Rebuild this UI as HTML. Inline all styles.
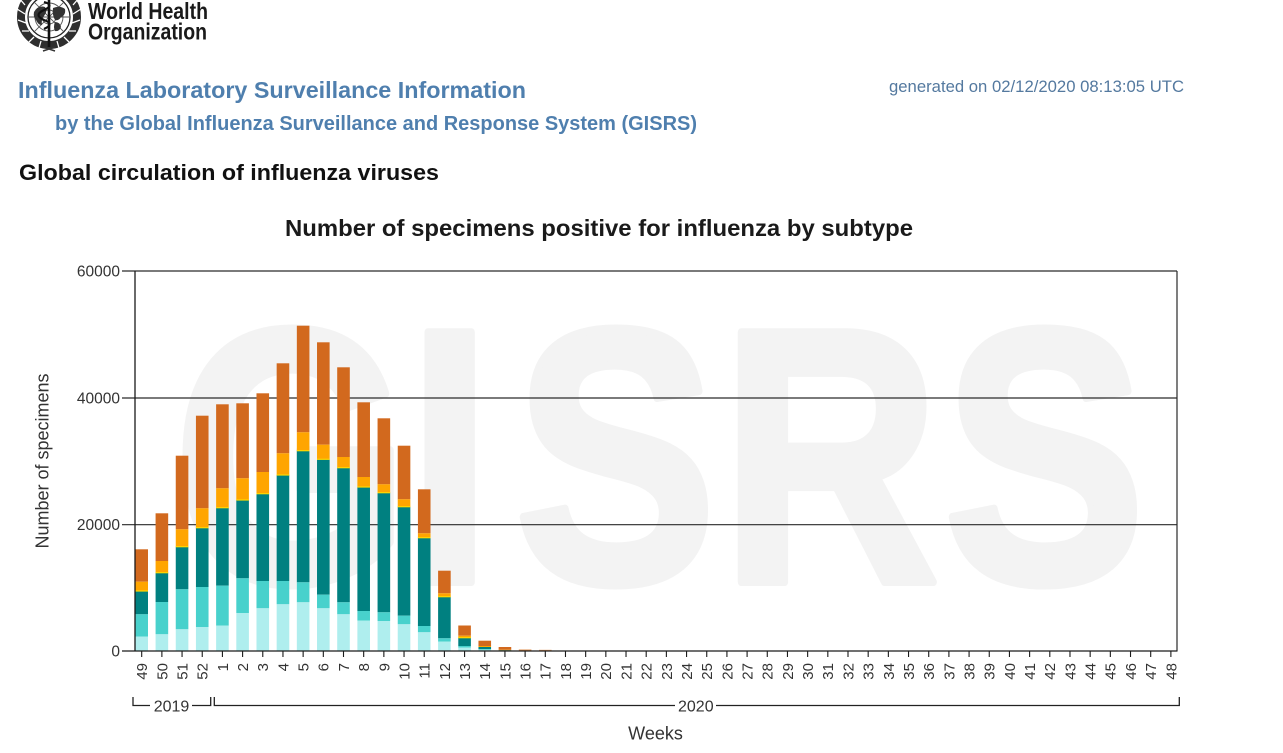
<!DOCTYPE html>
<html><head><meta charset="utf-8"><style>
html,body{margin:0;padding:0;background:#fff;}
svg{display:block;font-family:"Liberation Sans",Arial,sans-serif;}
</style></head><body>
<svg width="1283" height="753" viewBox="0 0 1283 753" xmlns="http://www.w3.org/2000/svg">
<rect width="1283" height="753" fill="#fff"/>

<!-- WHO emblem -->
<g transform="translate(49,17)">
  <circle r="28" fill="none" stroke="#2e2e2e" stroke-width="8"/>
  <g stroke="#fff" stroke-width="1.3">
    <path d="M-24 -3L-32 -8M-23 6L-31 3M-20 14L-27 14M-15 20L-20 25M-8 24L-10 31M-24 -12L-30 -19M-20 -18L-24 -26"/>
    <path d="M24 -3L32 -8M23 6L31 3M20 14L27 14M15 20L20 25M8 24L10 31M24 -12L30 -19M20 -18L24 -26"/>
  </g>
  <circle r="21" fill="#fff" stroke="#222" stroke-width="1.3"/>
  <circle r="14" fill="none" stroke="#555" stroke-width="0.9"/>
  <circle r="7" fill="none" stroke="#555" stroke-width="0.9"/>
  <path d="M-21 0H21M-14.8 -14.8L14.8 14.8M14.8 -14.8L-14.8 14.8" stroke="#555" stroke-width="0.9"/>
  <path d="M-15 -5q4 -7 11 -5q3 4 -1 9q-3 4 -2 9q-4 0 -6 -5q-3 -3 -2 -8z" fill="#333"/>
  <path d="M4 -9q7 -3 12 1q1 6 -4 8q-2 4 -6 3q-3 -5 -2 -12z" fill="#333"/>
  <path d="M6 5q5 0 6 5q-2 5 -6 4q-2 -4 0 -9z" fill="#333"/>
  <line x1="0" y1="-24" x2="0" y2="30" stroke="#111" stroke-width="2.6"/>
  <path d="M-5 -15q11 3 0 8q-11 5 0 10q11 4 0 9" stroke="#111" stroke-width="2.2" fill="none"/>
  <path d="M-6 30L6 34M6 30L-6 34" stroke="#333" stroke-width="1.5"/>
</g>
<text x="88" y="19" font-size="23" font-weight="bold" fill="#1a1a1a" textLength="120" lengthAdjust="spacingAndGlyphs">World Health</text>
<text x="88" y="39.5" font-size="23" font-weight="bold" fill="#1a1a1a" textLength="119" lengthAdjust="spacingAndGlyphs">Organization</text>

<!-- Header -->
<text x="18" y="98" font-size="23" font-weight="bold" fill="#4f7fae" textLength="508" lengthAdjust="spacingAndGlyphs">Influenza Laboratory Surveillance Information</text>
<text x="55" y="130" font-size="20" font-weight="bold" fill="#4f7fae" textLength="642" lengthAdjust="spacingAndGlyphs">by the Global Influenza Surveillance and Response System (GISRS)</text>
<text x="889" y="92" font-size="16.5" fill="#54799f" textLength="295" lengthAdjust="spacingAndGlyphs">generated on 02/12/2020 08:13:05 UTC</text>
<text x="19" y="180" font-size="22" font-weight="bold" fill="#111" textLength="420" lengthAdjust="spacingAndGlyphs">Global circulation of influenza viruses</text>

<!-- Chart title -->
<text x="599" y="236" font-size="23" font-weight="bold" fill="#1a1a1a" text-anchor="middle" textLength="628" lengthAdjust="spacingAndGlyphs">Number of specimens positive for influenza by subtype</text>

<!-- Watermark -->
<g transform="translate(0,582) scale(0.835,1)" fill="#f3f3f3" stroke="#f3f3f3" stroke-width="8" stroke-linejoin="round" font-size="363" font-weight="bold">
  <text x="207.7 488.1 616.0 863.3 1129.8" y="0">GISRS</text>
</g>

<!-- Grid lines -->
<g stroke="#2a2a2a" stroke-width="1.2">
  <line x1="122" y1="398" x2="1177" y2="398"/>
  <line x1="122" y1="524.7" x2="1177" y2="524.7"/>
  <line x1="122" y1="271" x2="1177" y2="271"/>
  <line x1="1177" y1="271" x2="1177" y2="651"/>
</g>

<!-- Bars -->
<g>
<!-- 49 -->
<rect x="135.4" y="549.3" width="12.6" height="32.4" fill="#d2691e"/><rect x="135.4" y="581.7" width="12.6" height="9.3" fill="#ffa500"/><rect x="135.4" y="591" width="12.6" height="23.3" fill="#008080"/><rect x="135.4" y="614.3" width="12.6" height="22.4" fill="#48d1cc"/><rect x="135.4" y="636.7" width="12.6" height="14.3" fill="#afeeee"/>
<!-- 50 -->
<rect x="155.58" y="513.3" width="12.6" height="47.7" fill="#d2691e"/><rect x="155.58" y="561" width="12.6" height="11.7" fill="#ffa500"/><rect x="155.58" y="572.7" width="12.6" height="29.3" fill="#008080"/><rect x="155.58" y="602" width="12.6" height="32.3" fill="#48d1cc"/><rect x="155.58" y="634.3" width="12.6" height="16.7" fill="#afeeee"/>
<!-- 51 -->
<rect x="175.76" y="455.7" width="12.6" height="73.6" fill="#d2691e"/><rect x="175.76" y="529.3" width="12.6" height="17.4" fill="#ffa500"/><rect x="175.76" y="546.7" width="12.6" height="42.6" fill="#008080"/><rect x="175.76" y="589.3" width="12.6" height="40" fill="#48d1cc"/><rect x="175.76" y="629.3" width="12.6" height="21.7" fill="#afeeee"/>
<!-- 52 -->
<rect x="195.94" y="415.7" width="12.6" height="92.6" fill="#d2691e"/><rect x="195.94" y="508.3" width="12.6" height="19.4" fill="#ffa500"/><rect x="195.94" y="527.7" width="12.6" height="59.3" fill="#008080"/><rect x="195.94" y="587" width="12.6" height="40" fill="#48d1cc"/><rect x="195.94" y="627" width="12.6" height="24" fill="#afeeee"/>
<!-- 1 -->
<rect x="216.12" y="404.3" width="12.6" height="84" fill="#d2691e"/><rect x="216.12" y="488.3" width="12.6" height="19.4" fill="#ffa500"/><rect x="216.12" y="507.7" width="12.6" height="78" fill="#008080"/><rect x="216.12" y="585.7" width="12.6" height="40" fill="#48d1cc"/><rect x="216.12" y="625.7" width="12.6" height="25.3" fill="#afeeee"/>
<!-- 2 -->
<rect x="236.3" y="403.3" width="12.6" height="75" fill="#d2691e"/><rect x="236.3" y="478.3" width="12.6" height="21.7" fill="#ffa500"/><rect x="236.3" y="500" width="12.6" height="78.3" fill="#008080"/><rect x="236.3" y="578.3" width="12.6" height="34.7" fill="#48d1cc"/><rect x="236.3" y="613" width="12.6" height="38" fill="#afeeee"/>
<!-- 3 -->
<rect x="256.48" y="393.3" width="12.6" height="78.7" fill="#d2691e"/><rect x="256.48" y="472" width="12.6" height="21.7" fill="#ffa500"/><rect x="256.48" y="493.7" width="12.6" height="87.3" fill="#008080"/><rect x="256.48" y="581" width="12.6" height="27.3" fill="#48d1cc"/><rect x="256.48" y="608.3" width="12.6" height="42.7" fill="#afeeee"/>
<!-- 4 -->
<rect x="276.66" y="363.3" width="12.6" height="90" fill="#d2691e"/><rect x="276.66" y="453.3" width="12.6" height="21.7" fill="#ffa500"/><rect x="276.66" y="475" width="12.6" height="106" fill="#008080"/><rect x="276.66" y="581" width="12.6" height="23.3" fill="#48d1cc"/><rect x="276.66" y="604.3" width="12.6" height="46.7" fill="#afeeee"/>
<!-- 5 -->
<rect x="296.84" y="325.7" width="12.6" height="106.6" fill="#d2691e"/><rect x="296.84" y="432.3" width="12.6" height="18.4" fill="#ffa500"/><rect x="296.84" y="450.7" width="12.6" height="131.6" fill="#008080"/><rect x="296.84" y="582.3" width="12.6" height="20" fill="#48d1cc"/><rect x="296.84" y="602.3" width="12.6" height="48.7" fill="#afeeee"/>
<!-- 6 -->
<rect x="317.02" y="342.3" width="12.6" height="102.4" fill="#d2691e"/><rect x="317.02" y="444.7" width="12.6" height="14.6" fill="#ffa500"/><rect x="317.02" y="459.3" width="12.6" height="135.4" fill="#008080"/><rect x="317.02" y="594.7" width="12.6" height="13.6" fill="#48d1cc"/><rect x="317.02" y="608.3" width="12.6" height="42.7" fill="#afeeee"/>
<!-- 7 -->
<rect x="337.2" y="367.3" width="12.6" height="89.7" fill="#d2691e"/><rect x="337.2" y="457" width="12.6" height="10.7" fill="#ffa500"/><rect x="337.2" y="467.7" width="12.6" height="134.6" fill="#008080"/><rect x="337.2" y="602.3" width="12.6" height="12" fill="#48d1cc"/><rect x="337.2" y="614.3" width="12.6" height="36.7" fill="#afeeee"/>
<!-- 8 -->
<rect x="357.38" y="402.3" width="12.6" height="74.7" fill="#d2691e"/><rect x="357.38" y="477" width="12.6" height="10" fill="#ffa500"/><rect x="357.38" y="487" width="12.6" height="124" fill="#008080"/><rect x="357.38" y="611" width="12.6" height="9.7" fill="#48d1cc"/><rect x="357.38" y="620.7" width="12.6" height="30.3" fill="#afeeee"/>
<!-- 9 -->
<rect x="377.56" y="418.3" width="12.6" height="66" fill="#d2691e"/><rect x="377.56" y="484.3" width="12.6" height="8.4" fill="#ffa500"/><rect x="377.56" y="492.7" width="12.6" height="119.6" fill="#008080"/><rect x="377.56" y="612.3" width="12.6" height="8.7" fill="#48d1cc"/><rect x="377.56" y="621" width="12.6" height="30" fill="#afeeee"/>
<!-- 10 -->
<rect x="397.74" y="445.7" width="12.6" height="53.6" fill="#d2691e"/><rect x="397.74" y="499.3" width="12.6" height="7.4" fill="#ffa500"/><rect x="397.74" y="506.7" width="12.6" height="109" fill="#008080"/><rect x="397.74" y="615.7" width="12.6" height="8.6" fill="#48d1cc"/><rect x="397.74" y="624.3" width="12.6" height="26.7" fill="#afeeee"/>
<!-- 11 -->
<rect x="417.92" y="489.3" width="12.6" height="44" fill="#d2691e"/><rect x="417.92" y="533.3" width="12.6" height="4.4" fill="#ffa500"/><rect x="417.92" y="537.7" width="12.6" height="88.3" fill="#008080"/><rect x="417.92" y="626" width="12.6" height="6.3" fill="#48d1cc"/><rect x="417.92" y="632.3" width="12.6" height="18.7" fill="#afeeee"/>
<!-- 12 -->
<rect x="438.1" y="570.7" width="12.6" height="22.6" fill="#d2691e"/><rect x="438.1" y="593.3" width="12.6" height="3.4" fill="#ffa500"/><rect x="438.1" y="596.7" width="12.6" height="41.6" fill="#008080"/><rect x="438.1" y="638.3" width="12.6" height="3.4" fill="#48d1cc"/><rect x="438.1" y="641.7" width="12.6" height="9.3" fill="#afeeee"/>
<!-- 13 -->
<rect x="458.28" y="625.5" width="12.6" height="10.2" fill="#d2691e"/><rect x="458.28" y="635.7" width="12.6" height="2" fill="#ffa500"/><rect x="458.28" y="637.7" width="12.6" height="8.3" fill="#008080"/><rect x="458.28" y="646" width="12.6" height="1.5" fill="#48d1cc"/><rect x="458.28" y="647.5" width="12.6" height="3.5" fill="#afeeee"/>
<!-- 14 -->
<rect x="478.46" y="640.7" width="12.6" height="5.3" fill="#d2691e"/><rect x="478.46" y="646" width="12.6" height="1" fill="#ffa500"/><rect x="478.46" y="647" width="12.6" height="2" fill="#008080"/><rect x="478.46" y="649" width="12.6" height="0.8" fill="#48d1cc"/><rect x="478.46" y="649.8" width="12.6" height="1.2" fill="#afeeee"/>
<!-- 15 -->
<rect x="498.64" y="647" width="12.6" height="2.8" fill="#d2691e"/><rect x="498.64" y="649.8" width="12.6" height="0.5" fill="#ffa500"/><rect x="498.64" y="650.3" width="12.6" height="0.7" fill="#008080"/>
<!-- 16 -->
<rect x="518.82" y="649.5" width="12.6" height="1.5" fill="#e09050"/>
<!-- 17 -->
<rect x="539" y="649.8" width="12.6" height="1.2" fill="#e8a06a"/>
</g>
<!-- thin yellow lines at teal top -->
<g fill="#ffd700">
<rect x="135.4" y="590.4" width="12.6" height="1.2"/><rect x="155.58" y="572.1" width="12.6" height="1.2"/><rect x="175.76" y="546.1" width="12.6" height="1.2"/><rect x="195.94" y="527.1" width="12.6" height="1.2"/><rect x="216.12" y="507.1" width="12.6" height="1.2"/><rect x="236.3" y="499.4" width="12.6" height="1.2"/><rect x="256.48" y="493.1" width="12.6" height="1.2"/><rect x="276.66" y="474.4" width="12.6" height="1.2"/><rect x="296.84" y="450.1" width="12.6" height="1.2"/><rect x="317.02" y="458.7" width="12.6" height="1.2"/><rect x="337.2" y="467.1" width="12.6" height="1.2"/><rect x="357.38" y="486.4" width="12.6" height="1.2"/><rect x="377.56" y="492.1" width="12.6" height="1.2"/><rect x="397.74" y="506.1" width="12.6" height="1.2"/><rect x="417.92" y="537.1" width="12.6" height="1.2"/><rect x="438.1" y="596.1" width="12.6" height="1.2"/><rect x="458.28" y="637.1" width="12.6" height="1.2"/>
</g>

<!-- Axes -->
<g stroke="#1a1a1a" stroke-width="1.3">
  <line x1="135" y1="271" x2="135" y2="651.5"/>
  <line x1="122" y1="651" x2="1177.5" y2="651"/>
</g>
<path stroke="#1a1a1a" stroke-width="1.1" fill="none" d="M141.7 651v6M161.88 651v6M182.06 651v6M202.24 651v6M222.42 651v6M242.6 651v6M262.78 651v6M282.96 651v6M303.14 651v6M323.32 651v6M343.5 651v6M363.68 651v6M383.86 651v6M404.04 651v6M424.22 651v6M444.4 651v6M464.58 651v6M484.76 651v6M504.94 651v6M525.12 651v6M545.3 651v6M565.48 651v6M585.66 651v6M605.84 651v6M626.02 651v6M646.2 651v6M666.38 651v6M686.56 651v6M706.74 651v6M726.92 651v6M747.1 651v6M767.28 651v6M787.46 651v6M807.64 651v6M827.82 651v6M848 651v6M868.18 651v6M888.36 651v6M908.54 651v6M928.72 651v6M948.9 651v6M969.08 651v6M989.26 651v6M1009.44 651v6M1029.62 651v6M1049.8 651v6M1069.98 651v6M1090.16 651v6M1110.34 651v6M1130.52 651v6M1150.7 651v6M1170.88 651v6"/>

<!-- Y tick labels -->
<g font-size="15.5" fill="#333" text-anchor="end">
  <text x="120" y="276.5">60000</text>
  <text x="120" y="403.5">40000</text>
  <text x="120" y="530.2">20000</text>
  <text x="120" y="656.5">0</text>
</g>

<!-- X tick labels -->
<g font-size="15" fill="#333" text-anchor="end">
<text transform="translate(147.1,663) rotate(-90)">49</text>
<text transform="translate(167.28,663) rotate(-90)">50</text>
<text transform="translate(187.46,663) rotate(-90)">51</text>
<text transform="translate(207.64,663) rotate(-90)">52</text>
<text transform="translate(227.82,663) rotate(-90)">1</text>
<text transform="translate(248,663) rotate(-90)">2</text>
<text transform="translate(268.18,663) rotate(-90)">3</text>
<text transform="translate(288.36,663) rotate(-90)">4</text>
<text transform="translate(308.54,663) rotate(-90)">5</text>
<text transform="translate(328.72,663) rotate(-90)">6</text>
<text transform="translate(348.9,663) rotate(-90)">7</text>
<text transform="translate(369.08,663) rotate(-90)">8</text>
<text transform="translate(389.26,663) rotate(-90)">9</text>
<text transform="translate(409.44,663) rotate(-90)">10</text>
<text transform="translate(429.62,663) rotate(-90)">11</text>
<text transform="translate(449.8,663) rotate(-90)">12</text>
<text transform="translate(469.98,663) rotate(-90)">13</text>
<text transform="translate(490.16,663) rotate(-90)">14</text>
<text transform="translate(510.34,663) rotate(-90)">15</text>
<text transform="translate(530.52,663) rotate(-90)">16</text>
<text transform="translate(550.7,663) rotate(-90)">17</text>
<text transform="translate(570.88,663) rotate(-90)">18</text>
<text transform="translate(591.06,663) rotate(-90)">19</text>
<text transform="translate(611.24,663) rotate(-90)">20</text>
<text transform="translate(631.42,663) rotate(-90)">21</text>
<text transform="translate(651.6,663) rotate(-90)">22</text>
<text transform="translate(671.78,663) rotate(-90)">23</text>
<text transform="translate(691.96,663) rotate(-90)">24</text>
<text transform="translate(712.14,663) rotate(-90)">25</text>
<text transform="translate(732.32,663) rotate(-90)">26</text>
<text transform="translate(752.5,663) rotate(-90)">27</text>
<text transform="translate(772.68,663) rotate(-90)">28</text>
<text transform="translate(792.86,663) rotate(-90)">29</text>
<text transform="translate(813.04,663) rotate(-90)">30</text>
<text transform="translate(833.22,663) rotate(-90)">31</text>
<text transform="translate(853.4,663) rotate(-90)">32</text>
<text transform="translate(873.58,663) rotate(-90)">33</text>
<text transform="translate(893.76,663) rotate(-90)">34</text>
<text transform="translate(913.94,663) rotate(-90)">35</text>
<text transform="translate(934.12,663) rotate(-90)">36</text>
<text transform="translate(954.3,663) rotate(-90)">37</text>
<text transform="translate(974.48,663) rotate(-90)">38</text>
<text transform="translate(994.66,663) rotate(-90)">39</text>
<text transform="translate(1014.84,663) rotate(-90)">40</text>
<text transform="translate(1035.02,663) rotate(-90)">41</text>
<text transform="translate(1055.2,663) rotate(-90)">42</text>
<text transform="translate(1075.38,663) rotate(-90)">43</text>
<text transform="translate(1095.56,663) rotate(-90)">44</text>
<text transform="translate(1115.74,663) rotate(-90)">45</text>
<text transform="translate(1135.92,663) rotate(-90)">46</text>
<text transform="translate(1156.1,663) rotate(-90)">47</text>
<text transform="translate(1176.28,663) rotate(-90)">48</text>
</g>

<!-- Year brackets -->
<g stroke="#222" stroke-width="1.3" fill="none">
  <path d="M133 697V705.5H150"/>
  <path d="M192 705.5H210.7V697"/>
  <path d="M214.3 697V705.5H675"/>
  <path d="M716 705.5H1179.3V697"/>
</g>
<g font-size="16" fill="#333" text-anchor="middle">
  <text x="171.5" y="711.3">2019</text>
  <text x="695.8" y="711.3">2020</text>
</g>

<!-- Axis titles -->
<text x="655.5" y="739.5" font-size="18" fill="#333" text-anchor="middle">Weeks</text>
<text transform="translate(48.5,461) rotate(-90)" font-size="18" fill="#333" text-anchor="middle">Number of specimens</text>
</svg>
</body></html>
